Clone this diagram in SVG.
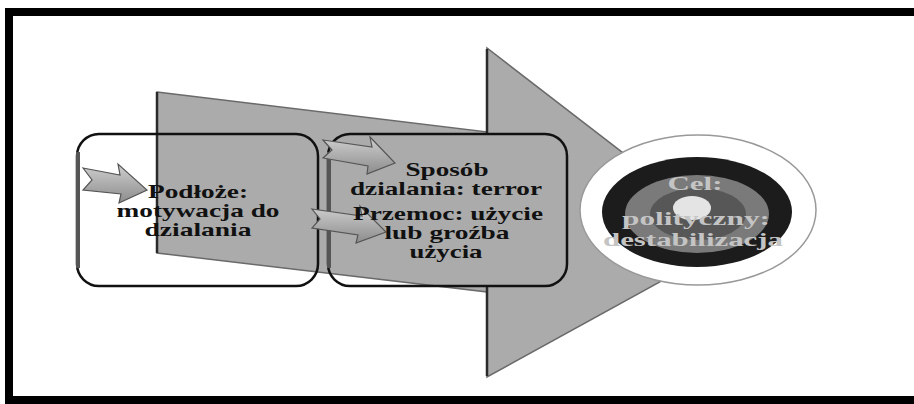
<svg xmlns="http://www.w3.org/2000/svg" width="914" height="404" viewBox="0 0 914 404">
  <defs>
    <linearGradient id="ga" x1="0" y1="0" x2="0" y2="1">
      <stop offset="0" stop-color="#cfcfcf"/>
      <stop offset="1" stop-color="#8c8c8c"/>
    </linearGradient>
    <style>
      .frame{fill:#000}
      .box{fill:none;stroke:#111;stroke-width:2.5}
      .edge{stroke:#555;stroke-width:4;fill:none}
      .dark{stroke:#2a2a2a;stroke-width:2.5;fill:none}
      .sa{fill:url(#ga);stroke:#555;stroke-width:1.2}
      .t{font-family:"Liberation Serif","Times New Roman",serif;font-weight:bold;font-size:19px;fill:#111;text-anchor:middle}
      .tc{font-family:"Liberation Serif","Times New Roman",serif;font-weight:bold;font-size:18px;fill:#c4c4c4;text-anchor:middle}
    </style>
  </defs>
  <rect width="914" height="404" fill="#fff"/>
  <g id="frame">
    <rect class="frame" x="5" y="8" width="909" height="8"/>
    <rect class="frame" x="5" y="8" width="8" height="396"/>
    <rect class="frame" x="5" y="396" width="909" height="8"/>
  </g>
  <g id="big-arrow">
    <polygon points="157,92 487,132 487,48 736,240 487,377 487,292 157,253" fill="#ababab" stroke="#6a6a6a" stroke-width="1.5"/>
    <line class="dark" x1="157" y1="92" x2="157" y2="253"/>
    <line class="dark" x1="487" y1="49" x2="487" y2="133"/>
    <line class="dark" x1="487" y1="287" x2="487" y2="376"/>
  </g>
  <g id="node-podloze">
    <rect class="box" x="77" y="134" width="241" height="152" rx="22"/>
    <line class="edge" x1="78" y1="152" x2="78" y2="268"/>
  </g>
  <g id="node-sposob">
    <rect class="box" x="328" y="134" width="239" height="152" rx="22"/>
    <line class="edge" x1="329" y1="152" x2="329" y2="268"/>
  </g>
  <g id="connectors">
    <polygon class="sa" points="83,168 120,175 118,164 147,190 119,203 121,194 83,190 92,180"/>
    <polygon class="sa" points="323,140 372,147 370,137 395,163 367,174 368,166 323,158 332,150"/>
    <polygon class="sa" points="312,209 362,216 360,206 386,232 356,243 358,235 312,228 320,219"/>
  </g>
  <g id="text-podloze">
    <text class="t" x="198" y="198" textLength="100" lengthAdjust="spacingAndGlyphs">Podłoże:</text>
    <text class="t" x="198" y="217" textLength="163" lengthAdjust="spacingAndGlyphs">motywacja do</text>
    <text class="t" x="198" y="236" textLength="107" lengthAdjust="spacingAndGlyphs">dzialania</text>
  </g>
  <g id="text-sposob">
    <text class="t" x="447" y="176" textLength="83" lengthAdjust="spacingAndGlyphs">Sposób</text>
    <text class="t" x="446" y="195" textLength="192" lengthAdjust="spacingAndGlyphs">dzialania: terror</text>
    <text class="t" x="448" y="220" textLength="190" lengthAdjust="spacingAndGlyphs">Przemoc: użycie</text>
    <text class="t" x="447" y="239" textLength="125" lengthAdjust="spacingAndGlyphs">lub groźba</text>
    <text class="t" x="446" y="258" textLength="73" lengthAdjust="spacingAndGlyphs">użycia</text>
  </g>
  <g id="node-cel">
    <ellipse cx="698" cy="210" rx="118" ry="75" fill="#fff" stroke="#999" stroke-width="1.5"/>
    <ellipse cx="697" cy="212" rx="95" ry="55" fill="#1c1c1c"/>
    <ellipse cx="697" cy="214" rx="72" ry="39" fill="#7a7a7a"/>
    <ellipse cx="698" cy="214" rx="48" ry="26" fill="#575757"/>
    <ellipse cx="692" cy="208" rx="19" ry="12" fill="#e4e4e4"/>
    <text class="tc" x="695" y="190" textLength="55" lengthAdjust="spacingAndGlyphs">Cel:</text>
    <text class="tc" x="696" y="225" textLength="148" lengthAdjust="spacingAndGlyphs">polityczny:</text>
    <text class="tc" x="693" y="246" textLength="180" lengthAdjust="spacingAndGlyphs">destabilizacja</text>
  </g>
</svg>
